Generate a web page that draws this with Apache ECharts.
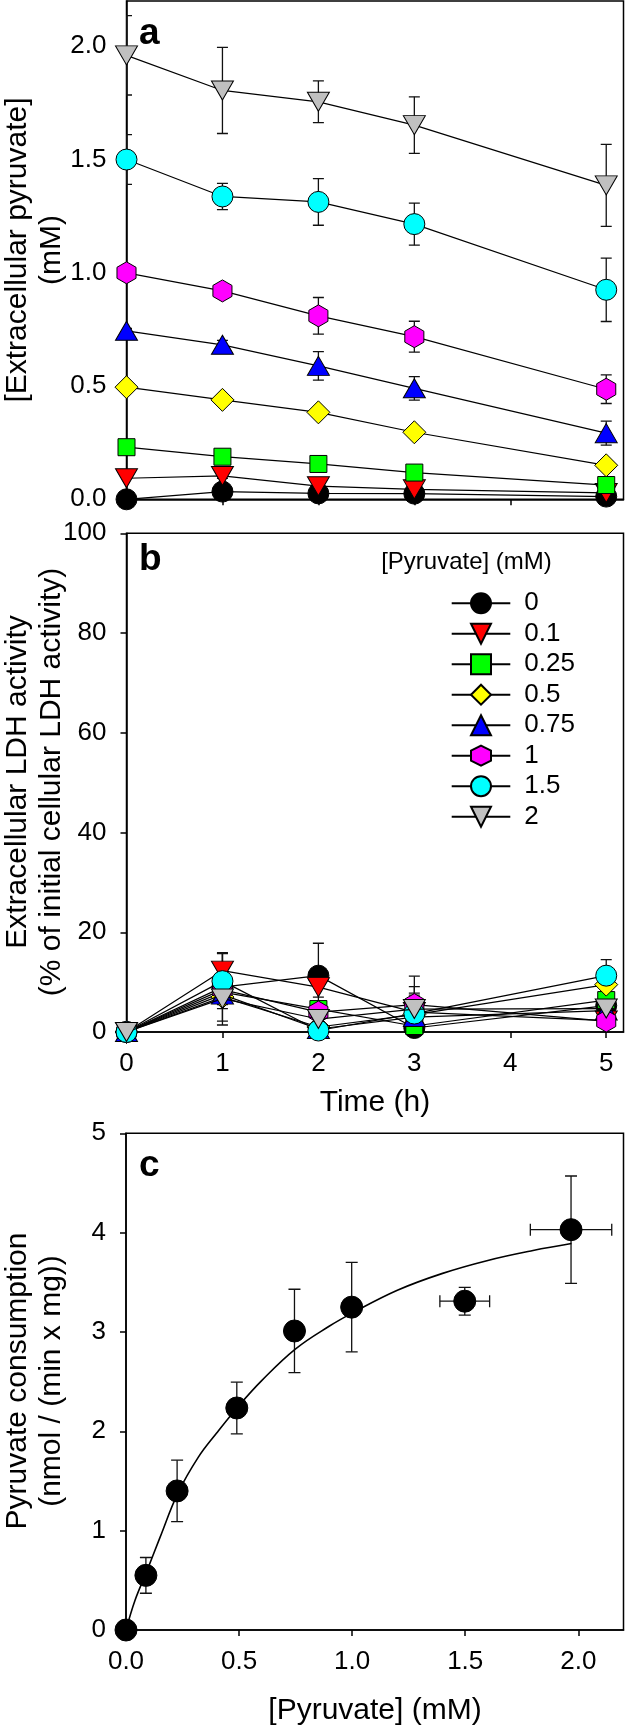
<!DOCTYPE html>
<html><head><meta charset="utf-8">
<script src="https://cdn.jsdelivr.net/npm/echarts@6/dist/echarts.min.js"></script>
<style>html,body{margin:0;padding:0;background:#fff}#c{width:626px;height:1731px}</style>
</head><body><div id="c"></div>
<script>
// ---------- DATA ----------
const seriesNames = ['0', '0.1', '0.25', '0.5', '0.75', '1', '1.5', '2'];
const timeH = [0, 1, 2, 3, 5];
const timeTicks = [0, 1, 2, 3, 4, 5];

// Panel a: extracellular pyruvate (mM)
const a0   = [0.0, 0.034, 0.026, 0.025, 0.012];
const a01  = [0.093, 0.103, 0.058, 0.044, 0.028];
const a025 = [0.230, 0.188, 0.156, 0.118, 0.063];
const a05  = [0.495, 0.439, 0.384, 0.296, 0.150];
const a075 = [0.744, 0.682, 0.589, 0.490, 0.292];
const a1   = [1.0, 0.920, 0.810, 0.718, 0.486];
const a15  = [1.5, 1.337, 1.313, 1.215, 0.925];
const a2   = [1.96, 1.805, 1.755, 1.652, 1.386];
const a0Err   = [0, 0.01, 0.01, 0.01, 0.01];
const a01Err  = [0, 0.01, 0.01, 0.01, 0.01];
const a025Err = [0.01, 0.02, 0.01, 0.01, 0.01];
const a05Err  = [0.01, 0.02, 0.02, 0.02, 0.02];
const a075Err = [0.01, 0.02, 0.063, 0.052, 0.053];
const a1Err   = [0.01, 0.02, 0.081, 0.068, 0.063];
const a15Err  = [0.11, 0.058, 0.103, 0.093, 0.14];
const a2Err   = [0.175, 0.19, 0.092, 0.125, 0.181];
const aTicks = [0, 0.5, 1.0, 1.5, 2.0];

// Panel b: extracellular LDH activity (%)
const b0   = [0, 9.0, 11.3, 0.8, 5.3];
const b01  = [0, 12.3, 9.0, 4.0, 2.3];
const b025 = [0, 8.0, 4.6, 1.2, 6.4];
const b05  = [0, 7.0, 1.0, 3.5, 9.5];
const b075 = [0, 7.5, 0.6, 3.0, 4.3];
const b1   = [0, 8.5, 4.0, 5.5, 2.2];
const b15  = [0, 10.2, 0.3, 3.7, 11.3];
const b2   = [0, 6.7, 2.6, 4.6, 4.7];
const b0Err   = [0, 6.8, 6.5, 1.0, 1.2];
const b01Err  = [0, 3.6, 2.0, 3.4, 1.0];
const b025Err = [0, 2.0, 1.0, 1.0, 1.2];
const b05Err  = [0, 1.5, 0.8, 1.0, 1.5];
const b075Err = [0, 1.5, 0.5, 1.0, 1.0];
const b1Err   = [0, 1.5, 1.0, 5.7, 1.0];
const b15Err  = [0, 5.5, 0.3, 5.4, 3.2];
const b2Err   = [0, 5.3, 1.0, 3.2, 1.0];
const bTicks = [0, 20, 40, 60, 80, 100];

// Panel c: pyruvate consumption
const cPyr     = [0, 0.088, 0.226, 0.49, 0.745, 0.998, 1.498, 1.968];
const cRate    = [0, 0.55, 1.40, 2.235, 3.01, 3.25, 3.31, 4.03];
const cRateErr = [0, 0.18, 0.31, 0.26, 0.42, 0.45, 0.14, 0.54];
const cPyrErr  = [0, 0, 0, 0, 0, 0, 0.11, 0.18];
const fitX = [0, 0.04, 0.09, 0.15, 0.23, 0.32, 0.40, 0.50, 0.60, 0.75, 0.90, 1.00, 1.20, 1.40, 1.60, 1.80, 1.97];
const fitY = [0, 0.30, 0.58, 0.93, 1.38, 1.74, 1.98, 2.26, 2.51, 2.83, 3.06, 3.19, 3.42, 3.59, 3.72, 3.82, 3.89];
const cXTicks = [0, 0.5, 1.0, 1.5, 2.0];
const cYTicks = [0, 1, 2, 3, 4, 5];

const panelA = [a0, a01, a025, a05, a075, a1, a15, a2];
const panelAErr = [a0Err, a01Err, a025Err, a05Err, a075Err, a1Err, a15Err, a2Err];
const panelB = [b0, b01, b025, b05, b075, b1, b15, b2];
const panelBErr = [b0Err, b01Err, b025Err, b05Err, b075Err, b1Err, b15Err, b2Err];

// ---------- STYLE ----------
const FONT = 'Liberation Sans, Arial, Helvetica, sans-serif';
const hexPath = 'path://M0,-10 L8.66,-5 L8.66,5 L0,10 L-8.66,5 L-8.66,-5 Z';
const styles = [
  {color: '#000000', symbol: 'circle', size: 21, rotate: 0},
  {color: '#ff0000', symbol: 'triangle', size: [22, 19], rotate: 180},
  {color: '#00ff00', symbol: 'rect', size: 17, rotate: 0},
  {color: '#ffff00', symbol: 'diamond', size: 23, rotate: 0},
  {color: '#0000ff', symbol: 'triangle', size: [22, 19], rotate: 0},
  {color: '#ff00ff', symbol: hexPath, size: 22, rotate: 0, keep: true},
  {color: '#00ffff', symbol: 'circle', size: 21, rotate: 0},
  {color: '#c0c0c0', symbol: 'triangle', size: [22, 19], rotate: 180}
];

function errRender(capW) {
  return function (params, api) {
    const x = api.value(0), y = api.value(1), e = api.value(2), ex = api.value(3);
    const st = {stroke: '#111', lineWidth: 1.3, fill: null};
    const ch = [];
    const h = capW / 2;
    if (e > 0) {
      const p1 = api.coord([x, y + e]), p2 = api.coord([x, y - e]);
      ch.push({type: 'line', shape: {x1: p1[0], y1: p1[1], x2: p2[0], y2: p2[1]}, style: st});
      ch.push({type: 'line', shape: {x1: p1[0] - h, y1: p1[1], x2: p1[0] + h, y2: p1[1]}, style: st});
      ch.push({type: 'line', shape: {x1: p2[0] - h, y1: p2[1], x2: p2[0] + h, y2: p2[1]}, style: st});
    }
    if (ex > 0) {
      const p1 = api.coord([x - ex, y]), p2 = api.coord([x + ex, y]);
      ch.push({type: 'line', shape: {x1: p1[0], y1: p1[1], x2: p2[0], y2: p2[1]}, style: st});
      ch.push({type: 'line', shape: {x1: p1[0], y1: p1[1] - h, x2: p1[0], y2: p1[1] + h}, style: st});
      ch.push({type: 'line', shape: {x1: p2[0], y1: p2[1] - h, x2: p2[0], y2: p2[1] + h}, style: st});
    }
    return {type: 'group', children: ch};
  };
}

const axisLineStyle = {color: '#000', width: 1.5};
const tickLabelStyle = {color: '#000', fontSize: 26, fontFamily: FONT};

function makeX(gi, max, ticks, showLabels, fmt) {
  return {
    type: 'value', gridIndex: gi, min: 0, max: max,
    axisLine: {show: true, onZero: false, lineStyle: axisLineStyle},
    axisTick: {show: true, inside: false, length: 6, lineStyle: axisLineStyle, customValues: ticks},
    axisLabel: Object.assign({show: showLabels, margin: 19, customValues: ticks, formatter: fmt}, tickLabelStyle),
    splitLine: {show: false}
  };
}
function makeY(gi, max, ticks, fmt) {
  return {
    type: 'value', gridIndex: gi, min: 0, max: max,
    axisLine: {show: true, onZero: false, lineStyle: axisLineStyle},
    axisTick: {show: true, inside: false, length: 6, lineStyle: axisLineStyle, customValues: ticks},
    axisLabel: Object.assign({show: true, margin: 20, customValues: ticks, formatter: fmt}, tickLabelStyle),
    splitLine: {show: false}
  };
}

const series = [];
function addPanel(panel, errs, gi, cap) {
  panel.forEach(function (vals, i) {
    series.push({
      type: 'custom', name: 'err' + gi + '_' + i, xAxisIndex: gi, yAxisIndex: gi, z: 1,
      clip: true, renderItem: errRender(cap), encode: {x: 0, y: 1},
      data: timeH.map(function (t, k) { return [t, vals[k], errs[i][k], 0]; })
    });
  });
  panel.forEach(function (vals, i) {
    const s = styles[i];
    series.push({
      type: 'line', name: seriesNames[i], xAxisIndex: gi, yAxisIndex: gi, z: 3 + i * 0.01,
      symbol: s.symbol, symbolSize: s.size, symbolRotate: s.rotate, symbolKeepAspect: !!s.keep,
      showAllSymbol: true, clip: false,
      itemStyle: {color: s.color, borderColor: '#000', borderWidth: 1, opacity: 1},
      lineStyle: {color: '#000', width: 1.2},
      data: timeH.map(function (t, k) { return [t, vals[k]]; })
    });
  });
}
addPanel(panelA, panelAErr, 0, 11);
addPanel(panelB, panelBErr, 1, 11);

series.push({
  type: 'custom', name: 'errC', xAxisIndex: 2, yAxisIndex: 2, z: 1, clip: true,
  renderItem: errRender(12), encode: {x: 0, y: 1},
  data: cPyr.map(function (x, k) { return [x, cRate[k], cRateErr[k], cPyrErr[k]]; })
});
series.push({
  type: 'line', name: 'fit', xAxisIndex: 2, yAxisIndex: 2, z: 2, smooth: 0.4,
  showSymbol: false, symbol: 'none', lineStyle: {color: '#000', width: 1.6},
  data: fitX.map(function (x, k) { return [x, fitY[k]]; })
});
series.push({
  type: 'scatter', name: 'rate', xAxisIndex: 2, yAxisIndex: 2, z: 3,
  symbol: 'circle', symbolSize: 22,
  itemStyle: {color: '#000', borderColor: '#000', borderWidth: 1, opacity: 1},
  data: cPyr.map(function (x, k) { return [x, cRate[k]]; })
});

const fmt1 = function (v) { return v.toFixed(1); };
const fmt0 = function (v) { return String(Math.round(v)); };

function titleText(x, y, text, rot) {
  return {
    type: 'text', x: x, y: y, rotation: rot ? Math.PI / 2 : 0,
    style: {text: text, font: '30px ' + FONT, fill: '#000', align: 'center', verticalAlign: 'middle',
            textAlign: 'center', textVerticalAlign: 'middle', lineHeight: 34}
  };
}
function letter(x, y, t) {
  return {type: 'text', left: x, top: y, style: {text: t, font: 'bold 37px ' + FONT, fill: '#000'}};
}

const option = {
  animation: false,
  backgroundColor: '#fff',
  textStyle: {fontFamily: FONT},
  grid: [
    {left: 126.5, top: 1, width: 497, height: 498.3, show: true, borderColor: '#000', borderWidth: 1.5, outerBoundsMode: 'none', containLabel: false},
    {left: 126.5, top: 533.3, width: 497, height: 498.7, show: true, borderColor: '#000', borderWidth: 1.5, outerBoundsMode: 'none', containLabel: false},
    {left: 126, top: 1133.3, width: 497.5, height: 496.7, show: true, borderColor: '#000', borderWidth: 1.5, outerBoundsMode: 'none', containLabel: false}
  ],
  xAxis: [
    makeX(0, 5.18, timeTicks, false, fmt0),
    makeX(1, 5.18, timeTicks, true, fmt0),
    makeX(2, 2.2, cXTicks, true, fmt1)
  ],
  yAxis: [
    makeY(0, 2.2, aTicks, fmt1),
    makeY(1, 100, bTicks, fmt0),
    makeY(2, 5, cYTicks, fmt0)
  ],
  legend: {
    data: seriesNames, orient: 'vertical', left: 450.7, top: 590.2, padding: 0,
    itemWidth: 58.6, itemHeight: 25, itemGap: 4.5, selectedMode: false,
    textStyle: {color: '#000', fontSize: 26, fontFamily: FONT, lineHeight: 25, padding: [0, 0, 0, 9]}
  },
  graphic: [
    letter(139, 15, 'a'),
    letter(139, 541, 'b'),
    letter(139, 1147, 'c'),
    {type: 'text', x: 466.5, y: 562, style: {text: '[Pyruvate] (mM)', font: '24px ' + FONT, fill: '#000',
      align: 'center', verticalAlign: 'middle', textAlign: 'center', textVerticalAlign: 'middle'}},
    titleText(35, 250, '[Extracellular pyruvate]\n(mM)', true),
    titleText(35, 782, 'Extracellular LDH activity\n(% of initial cellular LDH activity)', true),
    titleText(35, 1381, 'Pyruvate consumption\n(nmol / (min x mg))', true),
    titleText(375, 1103, 'Time (h)', false),
    titleText(375, 1711, '[Pyruvate] (mM)', false)
  ],
  series: series
};
const chart = echarts.init(document.getElementById('c'), null, {renderer: 'canvas'});
chart.setOption(option);
</script></body></html>
